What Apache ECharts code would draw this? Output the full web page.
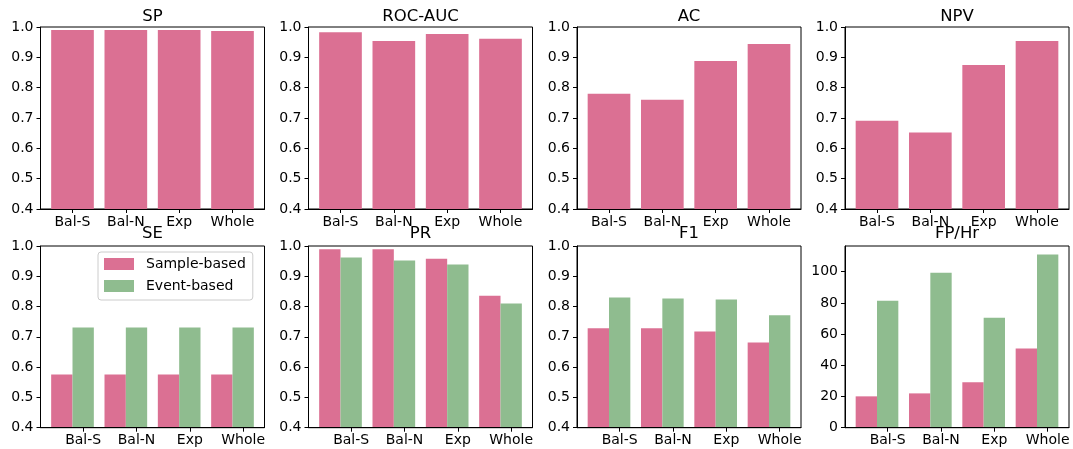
<!DOCTYPE html>
<html>
<head>
<meta charset="utf-8">
<script src="https://cdn.jsdelivr.net/npm/echarts@6/dist/echarts.min.js"></script>
<style>
html,body{margin:0;padding:0;background:#fff;}
#chart{width:1073px;height:449px;}
</style>
</head>
<body>
<div id="chart"></div>
<script>
// ---------- data ----------
const categories = ['Bal-S', 'Bal-N', 'Exp', 'Whole'];
const seriesNames = ['Sample-based', 'Event-based'];
const titlesTop = ['SP', 'ROC-AUC', 'AC', 'NPV'];
const titlesBottom = ['SE', 'PR', 'F1', 'FP/Hr'];

const spValues     = [0.990, 0.990, 0.990, 0.987];
const rocAucValues = [0.983, 0.954, 0.977, 0.961];
const acValues     = [0.780, 0.760, 0.888, 0.944];
const npvValues    = [0.691, 0.652, 0.875, 0.954];

const seSample = [0.576, 0.576, 0.576, 0.576];
const seEvent  = [0.731, 0.731, 0.731, 0.731];
const prSample = [0.989, 0.989, 0.958, 0.836];
const prEvent  = [0.962, 0.952, 0.939, 0.810];
const f1Sample = [0.728, 0.728, 0.718, 0.681];
const f1Event  = [0.830, 0.827, 0.823, 0.771];
const fpSample = [20.1, 22.0, 29.1, 50.8];
const fpEvent  = [81.4, 99.4, 70.5, 111.0];

const ratioTicks = [0.4, 0.5, 0.6, 0.7, 0.8, 0.9, 1.0];
const fpTicks = [0, 20, 40, 60, 80, 100];

// ---------- styling / layout ----------
const PINK = '#DB7093';
const GREEN = '#8FBC8F';
const FONT = 'DejaVu Sans';
const colLefts = [40.5, 308.5, 577, 845];
const frameW = 224;
const rowTops = [27, 246];
const frameH = [182, 181.7];
const titleTops = [8, 225];

const panels = [
  {title: titlesTop[0], row: 0, col: 0, series: [[ 'SP', spValues, PINK ]], yMin: 0.4, yMax: 1.0, yTicks: ratioTicks, shift: 0},
  {title: titlesTop[1], row: 0, col: 1, series: [[ 'ROC-AUC', rocAucValues, PINK ]], yMin: 0.4, yMax: 1.0, yTicks: ratioTicks, shift: 0},
  {title: titlesTop[2], row: 0, col: 2, series: [[ 'AC', acValues, PINK ]], yMin: 0.4, yMax: 1.0, yTicks: ratioTicks, shift: 0},
  {title: titlesTop[3], row: 0, col: 3, series: [[ 'NPV', npvValues, PINK ]], yMin: 0.4, yMax: 1.0, yTicks: ratioTicks, shift: 0},
  {title: titlesBottom[0], row: 1, col: 0, series: [[seriesNames[0], seSample, PINK], [seriesNames[1], seEvent, GREEN]], yMin: 0.4, yMax: 1.0, yTicks: ratioTicks, shift: 0.2},
  {title: titlesBottom[1], row: 1, col: 1, series: [[seriesNames[0], prSample, PINK], [seriesNames[1], prEvent, GREEN]], yMin: 0.4, yMax: 1.0, yTicks: ratioTicks, shift: 0.2},
  {title: titlesBottom[2], row: 1, col: 2, series: [[seriesNames[0], f1Sample, PINK], [seriesNames[1], f1Event, GREEN]], yMin: 0.4, yMax: 1.0, yTicks: ratioTicks, shift: 0.2},
  {title: titlesBottom[3], row: 1, col: 3, series: [[seriesNames[0], fpSample, PINK], [seriesNames[1], fpEvent, GREEN]], yMin: 0, yMax: 116.5, yTicks: fpTicks, shift: 0.2, intLabels: true}
];

const grid = [], xAxis = [], yAxis = [], series = [], title = [];
const pad = 0.1, span = categories.length + 2 * pad; // matplotlib-like margins

panels.forEach((p, k) => {
  const fl = colLefts[p.col], ft = rowTops[p.row], fh = frameH[p.row];
  const unit = frameW / span;
  const fi = 2 * k, di = 2 * k + 1;
  grid.push({left: fl, top: ft, width: frameW, height: fh, show: true,
    borderColor: '#000', borderWidth: 1, backgroundColor: 'rgba(0,0,0,0)', containLabel: false});
  grid.push({left: fl + pad * unit, top: ft, width: categories.length * unit, height: fh, show: false, containLabel: false});

  const tickPos = categories.map((c, i) => i + p.shift);
  xAxis.push({
    gridIndex: fi, type: 'value', min: -0.5 - pad, max: categories.length - 0.5 + pad, position: 'bottom', z: 5,
    axisLine: {show: true, onZero: false, lineStyle: {color: '#000', width: 1}},
    axisTick: {show: true, length: 4, customValues: tickPos, lineStyle: {color: '#000', width: 1}},
    axisLabel: {show: true, customValues: tickPos, margin: 6, fontSize: 14, fontFamily: FONT, color: '#000',
      formatter: v => categories[Math.round(v - p.shift)] || ''},
    splitLine: {show: false}
  });
  xAxis.push({gridIndex: di, type: 'category', data: categories, show: false, boundaryGap: true});

  yAxis.push({
    gridIndex: fi, type: 'value', min: p.yMin, max: p.yMax, position: 'left', z: 5,
    axisLine: {show: true, onZero: false, lineStyle: {color: '#000', width: 1}},
    axisTick: {show: true, length: 4, customValues: p.yTicks, lineStyle: {color: '#000', width: 1}},
    axisLabel: {show: true, customValues: p.yTicks, margin: 7, fontSize: 14, fontFamily: FONT, color: '#000',
      formatter: v => p.intLabels ? String(Math.round(v)) : Number(v).toFixed(1)},
    splitLine: {show: false}
  });
  yAxis.push({gridIndex: di, type: 'value', min: p.yMin, max: p.yMax, show: false});

  p.series.forEach(([name, data, color]) => {
    series.push({
      type: 'bar', name: name, data: data, xAxisIndex: di, yAxisIndex: di,
      barCategoryGap: '20%', barGap: '0%', itemStyle: {color: color},
      emphasis: {disabled: true}, z: 2
    });
  });

  title.push({
    text: p.title, left: fl + frameW / 2, top: titleTops[p.row], textAlign: 'center', padding: 0,
    textStyle: {fontSize: 16.5, fontWeight: 'normal', fontFamily: FONT, color: '#000'}
  });
});

const option = {
  animation: false,
  backgroundColor: '#fff',
  textStyle: {fontFamily: FONT},
  title: title,
  grid: grid,
  xAxis: xAxis,
  yAxis: yAxis,
  series: series,
  legend: {
    data: seriesNames, orient: 'vertical', left: 98, top: 252,
    itemWidth: 30, itemHeight: 12, itemGap: 8, icon: 'rect',
    padding: [5, 7, 7, 6], borderColor: '#cccccc', borderWidth: 1, borderRadius: 3,
    backgroundColor: 'rgba(255,255,255,0.8)', selectedMode: false,
    textStyle: {fontSize: 14, fontFamily: FONT, color: '#000', lineHeight: 14, padding: [0, 0, 0, 7]}
  }
};

const chart = echarts.init(document.getElementById('chart'), null, {renderer: 'canvas'});
chart.setOption(option);
</script>
</body>
</html>
